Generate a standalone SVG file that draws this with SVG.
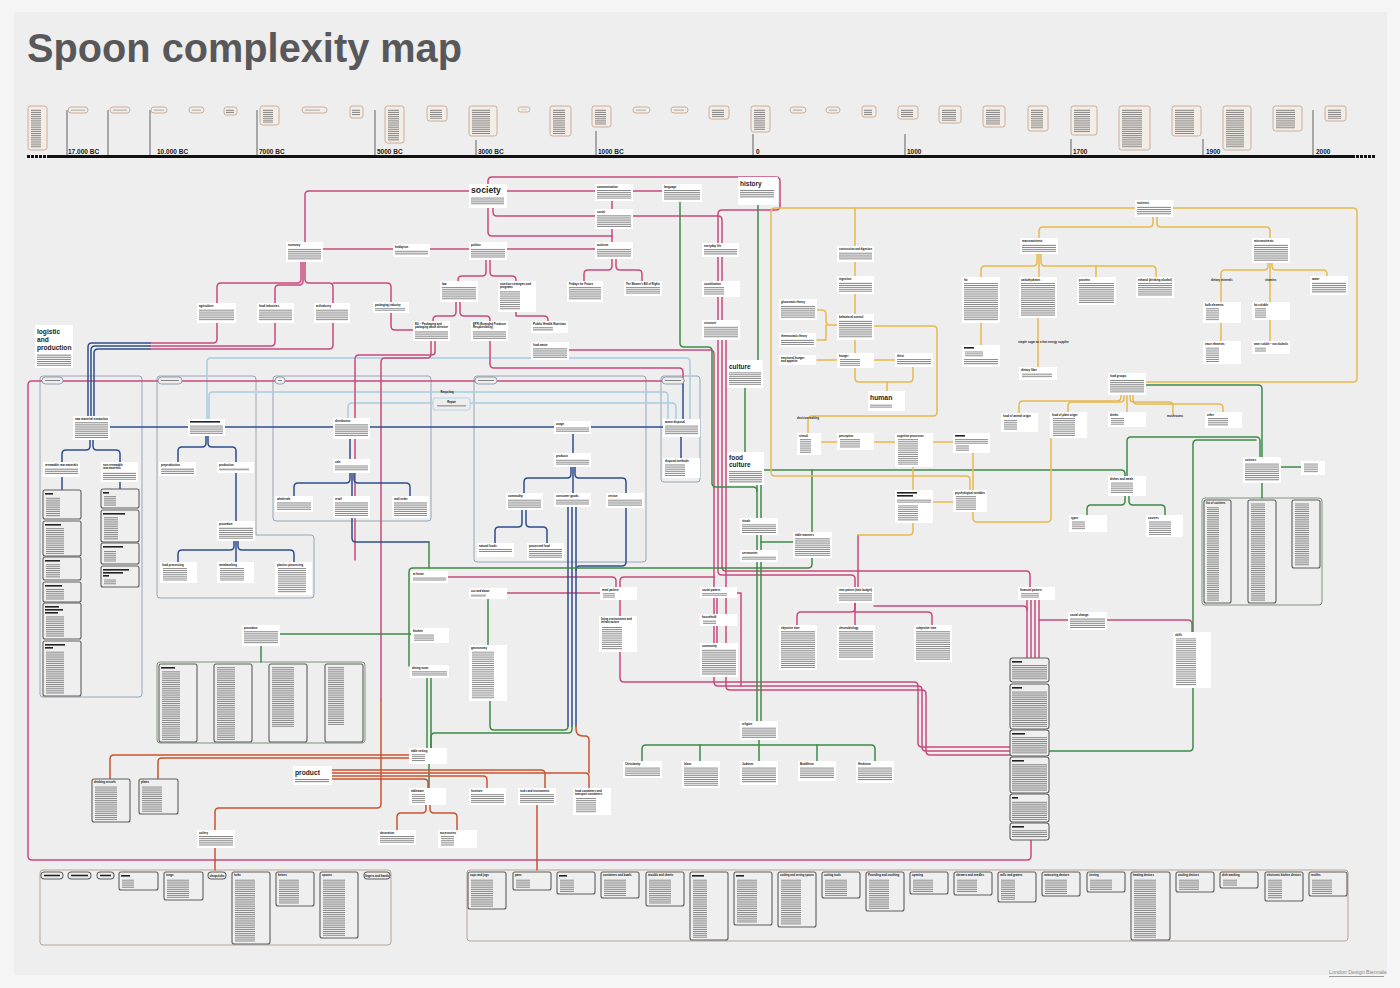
<svg xmlns="http://www.w3.org/2000/svg" width="1400" height="988" viewBox="0 0 1400 988">
<defs>
<style>
.c{fill:#fff}
.t{font-family:"Liberation Sans",Arial,sans-serif;font-weight:700;font-size:2.8px;fill:#111}
.big{font-family:"Liberation Sans",Arial,sans-serif;font-weight:700;fill:#1e1e1e}
.yr{font-family:"Liberation Sans",Arial,sans-serif;font-weight:700;font-size:6.5px;fill:#222}
.lbl{font-family:"Liberation Sans",Arial,sans-serif;font-weight:700;font-size:2.8px;fill:#222}
.p{fill:url(#ln)}
.pl{fill:url(#ll)}
.lb{fill:#efefef;stroke:#5e5e5e;stroke-width:1.1}
.tb{fill:#f2ede7;stroke:#c29f86;stroke-width:0.8}
.box{fill:none;stroke:#8a9cb2;stroke-width:0.9}
.pill{fill:#eeeeee;stroke:#7b8ca2;stroke-width:0.8}
.bx{fill:none;stroke:#b7a597;stroke-width:1}
.m,.b,.lbl2,.g,.o,.r{fill:none;stroke-width:1.5;stroke-linejoin:round;stroke-linecap:round}
.m{stroke:#c8497e}
.b{stroke:#2e4d8c}
.lbl2{stroke:#a6cde2}
.g{stroke:#3d8b47}
.o{stroke:#e7b94d}
.r{stroke:#c9532f}
.tick{stroke:#7a7a7a;stroke-width:1.2}
</style>
<pattern id="ln" width="60" height="1.9" patternUnits="userSpaceOnUse"><rect width="60" height="0.7" fill="#5a5a5a"/></pattern>
<pattern id="ll" width="60" height="1.9" patternUnits="userSpaceOnUse"><rect width="60" height="0.7" fill="#626262"/></pattern>
</defs>

<rect width="1400" height="988" fill="#f5f5f5"/>
<rect x="14" y="12" width="1373" height="963" fill="#eeeeee"/>

<text x="27" y="62" font-family="'Liberation Sans',Arial,sans-serif" font-weight="700" font-size="41" fill="#58585a" textLength="435" lengthAdjust="spacingAndGlyphs">Spoon complexity map</text>

<g id="timeline">
<rect x="47" y="155" width="1308" height="3" fill="#111"/>
<path d="M27,156.5h3M31,156.5h3M35,156.5h3M39,156.5h3M43,156.5h3M1356,156.5h3M1360,156.5h3M1364,156.5h3M1368,156.5h3M1372,156.5h3" stroke="#111" stroke-width="3"/>
<path class="tick" d="M67,110V155M108,110V155M150,110V155M257,110V155M375,110V155M476,140V155M596,131V155M753,134V155M905,134V155M1071,139V155M1203,139V155M1313,110V155"/>
<text class="yr" x="68" y="153.5">17.000 BC</text>
<text class="yr" x="157" y="153.5">10.000 BC</text>
<text class="yr" x="259" y="153.5">7000 BC</text>
<text class="yr" x="377" y="153.5">5000 BC</text>
<text class="yr" x="478" y="153.5">3000 BC</text>
<text class="yr" x="598" y="153.5">1000 BC</text>
<text class="yr" x="756" y="153.5">0</text>
<text class="yr" x="907" y="153.5">1000</text>
<text class="yr" x="1073" y="153.5">1700</text>
<text class="yr" x="1206" y="153.5">1900</text>
<text class="yr" x="1316" y="153.5">2000</text>
<g id="tl-boxes">
<rect class="tb" x="28" y="106" width="19" height="44" rx="2.5"/><rect class="pl" x="31" y="109" width="10" height="39"/>
<rect class="tb" x="68" y="107" width="20" height="6" rx="3"/><rect class="pl" x="71" y="109" width="14" height="1.5"/>
<rect class="tb" x="110" y="107" width="20" height="6" rx="3"/><rect class="pl" x="113" y="109" width="14" height="1.5"/>
<rect class="tb" x="151" y="107" width="16" height="6" rx="3"/><rect class="pl" x="154" y="109" width="10" height="1.5"/>
<rect class="tb" x="189" y="107" width="15" height="6" rx="3"/><rect class="pl" x="192" y="109" width="9" height="1.5"/>
<rect class="tb" x="224" y="107" width="13" height="8" rx="2.5"/><rect class="pl" x="226" y="109" width="8" height="5"/>
<rect class="tb" x="260" y="106" width="19" height="19" rx="2.5"/><rect class="pl" x="263" y="109" width="10" height="14"/>
<rect class="tb" x="302" y="107" width="25" height="6" rx="3"/><rect class="pl" x="305" y="109" width="15" height="1.5"/>
<rect class="tb" x="350" y="106" width="13" height="12" rx="2.5"/><rect class="pl" x="352" y="109" width="8" height="7"/>
<rect class="tb" x="385" y="106" width="19" height="37" rx="2.5"/><rect class="pl" x="388" y="109" width="11" height="32"/>
<rect class="tb" x="427" y="106" width="20" height="15" rx="2.5"/><rect class="pl" x="430" y="109" width="12" height="10"/>
<rect class="tb" x="469" y="106" width="28" height="30" rx="2.5"/><rect class="pl" x="472" y="109" width="18" height="25"/>
<rect class="tb" x="518" y="107" width="12" height="5" rx="2.5"/><rect class="pl" x="521" y="109" width="6" height="1"/>
<rect class="tb" x="550" y="106" width="21" height="30" rx="2.5"/><rect class="pl" x="553" y="109" width="12" height="25"/>
<rect class="tb" x="592" y="106" width="19" height="21" rx="2.5"/><rect class="pl" x="595" y="109" width="11" height="16"/>
<rect class="tb" x="633" y="107" width="17" height="6" rx="3"/><rect class="pl" x="636" y="109" width="10" height="1.5"/>
<rect class="tb" x="671" y="107" width="17" height="6" rx="3"/><rect class="pl" x="674" y="109" width="10" height="1.5"/>
<rect class="tb" x="709" y="106" width="20" height="13" rx="2.5"/><rect class="pl" x="712" y="109" width="12" height="8"/>
<rect class="tb" x="751" y="106" width="19" height="26" rx="2.5"/><rect class="pl" x="754" y="109" width="11" height="21"/>
<rect class="tb" x="790" y="107" width="16" height="6" rx="3"/><rect class="pl" x="793" y="109" width="9" height="1.5"/>
<rect class="tb" x="826" y="107" width="14" height="6" rx="3"/><rect class="pl" x="829" y="109" width="8" height="1.5"/>
<rect class="tb" x="862" y="106" width="14" height="11" rx="2.5"/><rect class="pl" x="864" y="109" width="8" height="6"/>
<rect class="tb" x="898" y="106" width="20" height="13" rx="2.5"/><rect class="pl" x="901" y="109" width="12" height="8"/>
<rect class="tb" x="939" y="106" width="22" height="17" rx="2.5"/><rect class="pl" x="942" y="109" width="14" height="12"/>
<rect class="tb" x="983" y="106" width="22" height="21" rx="2.5"/><rect class="pl" x="986" y="109" width="14" height="16"/>
<rect class="tb" x="1028" y="106" width="20" height="25" rx="2.5"/><rect class="pl" x="1031" y="109" width="12" height="20"/>
<rect class="tb" x="1071" y="106" width="26" height="29" rx="2.5"/><rect class="pl" x="1074" y="109" width="16" height="24"/>
<rect class="tb" x="1119" y="106" width="31" height="44" rx="2.5"/><rect class="pl" x="1122" y="109" width="20" height="39"/>
<rect class="tb" x="1172" y="106" width="29" height="30" rx="2.5"/><rect class="pl" x="1175" y="109" width="19" height="25"/>
<rect class="tb" x="1223" y="106" width="28" height="44" rx="2.5"/><rect class="pl" x="1226" y="109" width="18" height="39"/>
<rect class="tb" x="1273" y="106" width="29" height="25" rx="2.5"/><rect class="pl" x="1276" y="109" width="19" height="20"/>
<rect class="tb" x="1325" y="106" width="21" height="15" rx="2.5"/><rect class="pl" x="1328" y="109" width="13" height="10"/>
</g>
</g>

<g id="containers">
<rect class="box" x="40" y="376" width="102" height="321" rx="3"/>
<path class="box" d="M160,376H253Q256,376 256,379V535H311Q314,535 314,538V595Q314,598 311,598H160Q157,598 157,595V379Q157,376 160,376Z"/>
<rect class="box" x="273" y="376" width="158" height="145" rx="3"/>
<rect class="box" x="474" y="376" width="172" height="186" rx="3"/>
<rect class="box" x="661" y="376" width="39" height="106" rx="3"/>
<rect x="157" y="662" width="208" height="81" rx="3" fill="none" stroke="#6d8d70" stroke-width="0.9"/>
<rect x="1202" y="498" width="120" height="107" rx="3" fill="none" stroke="#6d8d70" stroke-width="0.9"/>
<rect class="bx" x="40" y="870" width="351" height="75" rx="3"/>
<rect class="bx" x="467" y="870" width="881" height="71" rx="3"/>
</g>

<g id="connectors">
<path class="lbl2" d="M207,419V362Q207,358 211,358H686Q690,358 690,362V419"/>
<path class="lbl2" d="M209,419V396Q209,392 213,392H664Q668,392 668,396V419"/>
<path class="lbl2" d="M348,419V407Q348,403 352,403H672Q676,403 676,407V419"/>
<path class="m" d="M469,191H309Q305,191 305,195V242"/>
<path class="m" d="M323,249H595"/>
<path class="m" d="M507,191H662"/>
<path class="m" d="M488,184V181Q488,177 492,177H776Q780,177 780,181V205"/>
<path class="m" d="M493,207V212Q493,216 497,216H718Q722,216 722,220V567Q722,571 726,571H1026Q1030,571 1030,575V587"/>
<path class="m" d="M780,205V206Q780,210 776,210H722Q718,210 718,214V571Q718,575 722,575H851Q855,575 855,579V587"/>
<path class="m" d="M488,207V232Q488,236 492,236H612"/>
<path class="m" d="M612,200V242"/>
<path class="m" d="M486,260V272Q486,276 482,276H462Q458,276 458,280V281"/>
<path class="m" d="M490,260V272Q490,276 494,276H512Q516,276 516,280V281"/>
<path class="m" d="M612,259V266Q612,270 608,270H588Q584,270 584,274V281"/>
<path class="m" d="M616,259V266Q616,270 620,270H638Q642,270 642,274V281"/>
<path class="m" d="M456,302V312Q456,316 452,316H437Q433,316 433,320V321"/>
<path class="m" d="M460,302V312Q460,316 464,316H486Q490,316 490,320V321"/>
<path class="m" d="M516,312V316H544Q548,316 548,320V321"/>
<path class="m" d="M301,262V279Q301,283 297,283H221Q217,283 217,287V339Q217,343 213,343H150"/>
<path class="m" d="M303,262V281Q303,285 299,285H279Q275,285 275,289V342Q275,346 271,346H150"/>
<path class="m" d="M305,262V279Q305,283 309,283H329Q333,283 333,287V345Q333,349 329,349H150"/>
<path class="m" d="M333,283H387Q391,283 391,287V326Q391,330 395,330H413"/>
<path class="m" d="M431,341V354Q431,358 427,358H385Q381,358 381,362V700"/>
<path class="m" d="M435,341V352Q435,355 431,355H359Q355,355 355,359V560"/>
<path class="m" d="M490,341V364Q490,368 494,368H679Q683,368 683,372V384"/>
<path class="m" d="M684,381H32Q28,381 28,385V856Q28,860 32,860H1027Q1031,860 1031,856V840"/>
<path class="m" d="M569,350H710Q714,350 714,354V682Q714,686 718,686H918Q922,686 922,690V747Q922,751 926,751H1010"/>
<path class="m" d="M726,330V686Q726,690 730,690H922Q926,690 926,694V751Q926,755 930,755H1010"/>
<path class="m" d="M620,600V678Q620,682 624,682H914Q918,682 918,686V743Q918,747 922,747H1010"/>
<path class="m" d="M737,593H741V686"/>
<path class="m" d="M717,598V650"/>
<path class="m" d="M448,577H612Q616,577 616,581V587"/>
<path class="m" d="M620,587V581Q620,577 624,577H714"/>
<path class="m" d="M507,593H600"/>
<path class="m" d="M855,603V608Q855,612 851,612H801Q797,612 797,616V625"/>
<path class="m" d="M855,603V625"/>
<path class="m" d="M855,612H928Q932,612 932,616V625"/>
<path class="m" d="M874,606H1023Q1027,606 1027,610"/>
<path class="m" d="M1027,600V658M1031,600V658M1035,600V658M1039,600V658"/>
<path class="m" d="M1039,620H1188Q1192,620 1192,624V632"/>
<path class="m" d="M858,535V587"/>
<path class="b" d="M150,343H92Q88,343 88,347V417"/>
<path class="b" d="M150,346H95Q91,346 91,350V417"/>
<path class="b" d="M150,349H98Q94,349 94,353V417"/>
<path class="b" d="M683,384V419"/>
<path class="b" d="M110,427H663"/>
<path class="b" d="M90,440V446Q90,450 86,450H66Q62,450 62,454V463"/>
<path class="b" d="M93,440V446Q93,450 97,450H116Q120,450 120,454V463"/>
<path class="b" d="M62,477V492M120,482V489"/>
<path class="b" d="M206,436V443Q206,447 202,447H182Q178,447 178,451V463"/>
<path class="b" d="M208,436V443Q208,447 212,447H232Q236,447 236,451V463"/>
<path class="b" d="M236,473V521"/>
<path class="b" d="M234,541V546Q234,550 230,550H182Q178,550 178,554V563"/>
<path class="b" d="M236,541V563"/>
<path class="b" d="M238,541V546Q238,550 242,550H290Q294,550 294,554V563"/>
<path class="b" d="M350,439V459"/>
<path class="b" d="M350,473V479Q350,483 346,483H298Q294,483 294,487V497"/>
<path class="b" d="M352,473V497"/>
<path class="b" d="M354,473V479Q354,483 358,483H406Q410,483 410,487V497"/>
<path class="b" d="M352,512V538Q352,542 356,542H429"/>
<path class="b" d="M573,434V453"/>
<path class="b" d="M571,467V474Q571,478 567,478H528Q524,478 524,482V493"/>
<path class="b" d="M573,467V493"/>
<path class="b" d="M575,467V474Q575,478 579,478H622Q626,478 626,482V493"/>
<path class="b" d="M522,510V523Q522,527 518,527H499Q495,527 495,531V543"/>
<path class="b" d="M526,510V523Q526,527 530,527H543Q547,527 547,531V543"/>
<path class="b" d="M568,507V726M572,507V726M576,507V726"/>
<path class="b" d="M626,508V562Q626,566 622,566H580Q576,566 576,570"/>
<path class="b" d="M681,437V458"/>
<path class="g" d="M758,205V361"/>
<path class="g" d="M745,388V452"/>
<path class="g" d="M757,485V721M761,485V721"/>
<path class="g" d="M680,202V343Q680,347 684,347H708Q712,347 712,351V483Q712,487 716,487H753Q757,487 757,491"/>
<path class="g" d="M764,470H1121Q1125,470 1125,474V476"/>
<path class="g" d="M812,470V564Q812,568 808,568H413Q409,568 409,572V666"/>
<path class="g" d="M761,542H793"/>
<path class="g" d="M642,761V749Q642,745 646,745H871Q875,745 875,749V761"/>
<path class="g" d="M700,745V761M759,740V761M817,745V761"/>
<path class="g" d="M429,542V568"/>
<path class="g" d="M280,634H411"/>
<path class="g" d="M261,646V662"/>
<path class="g" d="M488,599V645"/>
<path class="g" d="M427,678V748M431,678V748M429,764V788"/>
<path class="g" d="M568,726Q568,730 564,730H494Q490,730 490,726V701"/>
<path class="g" d="M572,726V729Q572,733 568,733H435Q431,733 431,737V748"/>
<path class="g" d="M1127,476V441Q1127,437 1131,437H1256Q1260,437 1260,441V457"/>
<path class="g" d="M1193,632V444Q1193,440 1197,440H1256"/>
<path class="g" d="M1146,385H1258Q1262,385 1262,389V457"/>
<path class="g" d="M1281,467H1301"/>
<path class="g" d="M1262,483V498"/>
<path class="g" d="M1125,496V501Q1125,505 1121,505H1091Q1087,505 1087,509V515"/>
<path class="g" d="M1129,496V501Q1129,505 1133,505H1161Q1165,505 1165,509V515"/>
<path class="g" d="M1193,688V747Q1193,751 1189,751H1049"/>
<path class="o" d="M1135,208H775Q771,208 771,212V472Q771,476 775,476H966Q970,476 970,480V490"/>
<path class="o" d="M855,208V246"/>
<path class="o" d="M1173,208H1353Q1357,208 1357,212V378Q1357,382 1353,382H1146"/>
<path class="o" d="M1153,217V223Q1153,227 1149,227H1043Q1039,227 1039,231V238"/>
<path class="o" d="M1157,217V223Q1157,227 1161,227H1266Q1270,227 1270,231V238"/>
<path class="o" d="M1037,254V262Q1037,266 1033,266H985Q981,266 981,270V277"/>
<path class="o" d="M1039,254V277"/>
<path class="o" d="M1041,254V262Q1041,266 1045,266H1152Q1156,266 1156,270V277"/>
<path class="o" d="M1096,266V277"/>
<path class="o" d="M1268,263V266Q1268,270 1264,270H1225Q1221,270 1221,274V341"/>
<path class="o" d="M1270,263V341"/>
<path class="o" d="M1272,263V266Q1272,270 1276,270H1323Q1327,270 1327,274V276"/>
<path class="o" d="M981,323V345M1038,318V367"/>
<path class="o" d="M855,262V276M855,294V314M855,340V353"/>
<path class="o" d="M817,310H822Q826,310 826,314V321Q826,325 830,325H837"/>
<path class="o" d="M817,340H826V325"/>
<path class="o" d="M817,360H837M874,360H895"/>
<path class="o" d="M855,368V378Q855,382 859,382H909Q913,382 913,378V367"/>
<path class="o" d="M887,382V391"/>
<path class="o" d="M874,326H933Q937,326 937,330V412Q937,416 933,416H812Q808,416 808,420V433"/>
<path class="o" d="M821,442H837M874,442H895M933,442H953"/>
<path class="o" d="M913,467V490M933,502H953M973,453V490"/>
<path class="o" d="M973,512V518Q973,522 977,522H1047Q1051,522 1051,518V438"/>
<path class="o" d="M913,523V531Q913,535 909,535H858"/>
<path class="o" d="M1121,395V397Q1121,401 1117,401H1023Q1019,401 1019,405V413"/>
<path class="o" d="M1124,395V399Q1124,402 1120,402H1072Q1068,402 1068,406V412"/>
<path class="o" d="M1127,395V412"/>
<path class="o" d="M1130,395V399Q1130,402 1134,402H1169Q1173,402 1173,406V414"/>
<path class="o" d="M1133,395V400Q1133,404 1137,404H1219Q1223,404 1223,408V412"/>
<path class="r" d="M381,700V804Q381,808 377,808H219Q215,808 215,812V830"/>
<path class="r" d="M215,848V870"/>
<path class="r" d="M110,779V759Q110,755 114,755H409"/>
<path class="r" d="M158,779V762Q158,758 162,758H409"/>
<path class="r" d="M332,770H541Q545,770 545,774V788"/>
<path class="r" d="M332,773H585Q589,773 589,777V788"/>
<path class="r" d="M332,776H483Q487,776 487,780V788"/>
<path class="r" d="M332,779H424Q428,779 428,783V788"/>
<path class="r" d="M576,726V729Q576,736 583,736H585Q589,736 589,740V773"/>
<path class="r" d="M537,805V870"/>
<path class="r" d="M426,805V809Q426,813 422,813H401Q397,813 397,817V830"/>
<path class="r" d="M430,805V809Q430,813 434,813H453Q457,813 457,817V830"/>
</g>

<g id="labels">
<text class="lbl" x="447" y="393" text-anchor="middle">Recycling</text>
<text class="lbl" x="1211" y="281">dietary minerals</text>
<text class="lbl" x="1265" y="281">vitamins</text>
<text class="lbl" x="1018" y="343">simple sugar as a fast energy supplier</text>
<text class="lbl" x="797" y="419">decision making</text>
<text class="lbl" x="1167" y="417">mushrooms</text>
</g>

<g id="pills">
<rect class="pill" x="42" y="377" width="21" height="7" rx="3.5"/><rect class="p" x="45" y="380" width="15" height="1"/>
<rect class="pill" x="158" y="377" width="24" height="7" rx="3.5"/><rect class="p" x="161" y="380" width="18" height="1"/>
<rect class="pill" x="275" y="377" width="10" height="7" rx="3.5"/><rect class="p" x="278" y="380" width="4" height="1"/>
<rect class="pill" x="475" y="377" width="22" height="7" rx="3.5"/><rect class="p" x="478" y="380" width="16" height="1"/>
<rect class="pill" x="662" y="377" width="22" height="7" rx="3.5"/><rect class="p" x="665" y="380" width="16" height="1"/>
</g>
<g id="n-repair"><rect x="433" y="398" width="37" height="12" rx="2" fill="#eee" stroke="#a6cde2" stroke-width="0.8"/><text class="t" x="451.5" y="403" text-anchor="middle">Repair</text><rect class="p" x="437" y="405" width="29" height="2"/></g>

<g id="nodes">
<g id="n-society"><rect class="c" x="469" y="184" width="38" height="24"/><text class="big" x="471" y="193" font-size="8.7">society</text><rect class="p" x="471" y="197" width="33" height="8"/></g>
<g id="n-history"><rect class="c" x="738" y="177" width="40" height="28"/><text class="big" x="740" y="186" font-size="6.5">history</text><rect class="p" x="740" y="190" width="34" height="8"/></g>
<g id="n-communication"><rect class="c" x="595" y="184" width="38" height="17"/><text class="t" x="597" y="188">communication</text><rect class="p" x="597" y="190" width="34" height="9"/></g>
<g id="n-language"><rect class="c" x="662" y="184" width="40" height="18"/><text class="t" x="664" y="188">language</text><rect class="p" x="664" y="190" width="36" height="10"/></g>
<g id="n-social"><rect class="c" x="595" y="209" width="38" height="20"/><text class="t" x="597" y="213">social</text><rect class="p" x="597" y="215" width="34" height="12"/></g>
<g id="n-economy"><rect class="c" x="286" y="242" width="37" height="20"/><text class="t" x="288" y="246">economy</text><rect class="p" x="288" y="248" width="33" height="12"/></g>
<g id="n-hobbyism"><rect class="c" x="393" y="244" width="37" height="13"/><text class="t" x="395" y="248">hobbyism</text><rect class="p" x="395" y="250" width="33" height="5"/></g>
<g id="n-politics"><rect class="c" x="469" y="242" width="38" height="18"/><text class="t" x="471" y="246">politics</text><rect class="p" x="471" y="248" width="34" height="10"/></g>
<g id="n-activism"><rect class="c" x="595" y="242" width="38" height="17"/><text class="t" x="597" y="246">activism</text><rect class="p" x="597" y="248" width="34" height="9"/></g>
<g id="n-everyday"><rect class="c" x="702" y="243" width="37" height="14"/><text class="t" x="704" y="247">everyday life</text><rect class="p" x="704" y="249" width="33" height="6"/></g>
<g id="n-socialisation"><rect class="c" x="702" y="281" width="38" height="16"/><text class="t" x="704" y="285">socialisation</text><rect class="pl" x="704" y="287" width="20" height="8"/></g>
<g id="n-structure"><rect class="c" x="702" y="320" width="38" height="20"/><text class="t" x="704" y="324">structure</text><rect class="p" x="704" y="326" width="34" height="12"/></g>
<g id="n-agriculture"><rect class="c" x="197" y="303" width="39" height="20"/><text class="t" x="199" y="307">agriculture</text><rect class="p" x="199" y="309" width="35" height="12"/></g>
<g id="n-foodind"><rect class="c" x="257" y="303" width="37" height="20"/><text class="t" x="259" y="307">food industries</text><rect class="p" x="259" y="309" width="33" height="12"/></g>
<g id="n-artind"><rect class="c" x="314" y="303" width="36" height="20"/><text class="t" x="316" y="307">art/industry</text><rect class="p" x="316" y="309" width="32" height="12"/></g>
<g id="n-packind"><rect class="c" x="373" y="302" width="36" height="11"/><text class="t" x="375" y="306">packaging industry</text><rect class="p" x="375" y="308" width="30" height="3"/></g>
<g id="n-law"><rect class="c" x="440" y="281" width="38" height="21"/><text class="t" x="442" y="285">law</text><rect class="p" x="442" y="287" width="34" height="13"/></g>
<g id="n-nutrition"><rect class="c" x="498" y="281" width="38" height="31"/><text class="t" x="500" y="285">nutrition strategies and</text><text class="t" x="500" y="288.3">programs</text><rect class="pl" x="500" y="291" width="20" height="19"/></g>
<g id="n-fridays"><rect class="c" x="567" y="281" width="36" height="21"/><text class="t" x="569" y="285">Fridays for Future</text><rect class="p" x="569" y="287" width="32" height="13"/></g>
<g id="n-women"><rect class="c" x="624" y="281" width="38" height="15"/><text class="t" x="626" y="285" textLength="34" lengthAdjust="spacingAndGlyphs">The Women's Bill of Rights</text><rect class="p" x="626" y="287" width="34" height="7"/></g>
<g id="n-eu"><rect class="c" x="413" y="321" width="37" height="20"/><text class="t" x="415" y="325">EU – Packaging and</text><text class="t" x="415" y="328.3" textLength="33" lengthAdjust="spacingAndGlyphs">packaging waste directive</text><rect class="p" x="415" y="331" width="33" height="8"/></g>
<g id="n-epr"><rect class="c" x="471" y="321" width="37" height="20"/><text class="t" x="473" y="325">EPR (Extended Producer</text><text class="t" x="473" y="328.3">Responsibility)</text><rect class="p" x="473" y="331" width="33" height="8"/></g>
<g id="n-phn"><rect class="c" x="531" y="321" width="37" height="12"/><text class="t" x="533" y="325" textLength="33" lengthAdjust="spacingAndGlyphs">Public Health Nutrition</text><rect class="p" x="533" y="327" width="20" height="4"/></g>
<g id="n-foodwaste"><rect class="c" x="531" y="342" width="38" height="18"/><text class="t" x="533" y="346">food waste</text><rect class="p" x="533" y="348" width="34" height="10"/></g>
<g id="n-logistic"><rect class="c" x="35" y="325" width="38" height="43"/><text class="big" x="37" y="334" font-size="6.6">logistic</text><text class="big" x="37" y="342" font-size="6.6">and</text><text class="big" x="37" y="350" font-size="6.6">production</text><rect class="p" x="37" y="354" width="34" height="12"/></g>

<g id="n-raw"><rect class="c" x="73" y="416" width="37" height="24"/><text class="t" x="75" y="420" textLength="33" lengthAdjust="spacingAndGlyphs">raw material extraction</text><rect class="p" x="75" y="422" width="33" height="16"/></g>
<g id="n-manuf"><rect class="c" x="188" y="419" width="37" height="17"/><rect x="190" y="421" width="30" height="1.6" fill="#222"/><rect class="p" x="190" y="425" width="33" height="9"/></g>
<g id="n-distribution"><rect class="c" x="333" y="418" width="37" height="21"/><text class="t" x="335" y="422">distribution</text><rect class="p" x="335" y="424" width="33" height="13"/></g>
<g id="n-usage"><rect class="c" x="554" y="421" width="37" height="13"/><text class="t" x="556" y="425">usage</text><rect class="p" x="556" y="427" width="33" height="5"/></g>
<g id="n-wastedisp"><rect class="c" x="663" y="419" width="37" height="18"/><text class="t" x="665" y="423">waste disposal</text><rect class="p" x="665" y="425" width="33" height="10"/></g>
<g id="n-dispmeth"><rect class="c" x="663" y="458" width="37" height="20"/><text class="t" x="665" y="462">disposal methods</text><rect class="pl" x="665" y="464" width="20" height="12"/></g>
<g id="n-renew"><rect class="c" x="43" y="462" width="37" height="15"/><text class="t" x="45" y="466" textLength="33" lengthAdjust="spacingAndGlyphs">renewable raw materials</text><rect class="p" x="45" y="468" width="33" height="7"/></g>
<g id="n-nonrenew"><rect class="c" x="101" y="462" width="37" height="20"/><text class="t" x="103" y="466">non-renewable</text><text class="t" x="103" y="469.3">raw materials</text><rect class="p" x="103" y="472" width="33" height="8"/></g>
<g id="n-preprod"><rect class="c" x="159" y="462" width="37" height="14"/><text class="t" x="161" y="466">preproduction</text><rect class="p" x="161" y="468" width="33" height="6"/></g>
<g id="n-production"><rect class="c" x="217" y="462" width="37" height="11"/><text class="t" x="219" y="466">production</text><rect class="p" x="219" y="468" width="30" height="3"/></g>
<g id="n-sale"><rect class="c" x="333" y="459" width="37" height="14"/><text class="t" x="335" y="463">sale</text><rect class="p" x="335" y="465" width="33" height="6"/></g>
<g id="n-wholesale"><rect class="c" x="275" y="496" width="38" height="16"/><text class="t" x="277" y="500">wholesale</text><rect class="p" x="277" y="502" width="34" height="8"/></g>
<g id="n-retail"><rect class="c" x="333" y="496" width="37" height="22"/><text class="t" x="335" y="500">retail</text><rect class="p" x="335" y="502" width="33" height="14"/></g>
<g id="n-mailorder"><rect class="c" x="392" y="496" width="37" height="22"/><text class="t" x="394" y="500">mail order</text><rect class="p" x="394" y="502" width="33" height="14"/></g>
<g id="n-products"><rect class="c" x="554" y="453" width="37" height="14"/><text class="t" x="556" y="457">products</text><rect class="p" x="556" y="459" width="33" height="6"/></g>
<g id="n-commodity"><rect class="c" x="506" y="493" width="37" height="17"/><text class="t" x="508" y="497">commodity</text><rect class="p" x="508" y="499" width="33" height="9"/></g>
<g id="n-consumer"><rect class="c" x="554" y="493" width="37" height="14"/><text class="t" x="556" y="497">consumer goods</text><rect class="p" x="556" y="499" width="33" height="6"/></g>
<g id="n-service"><rect class="c" x="606" y="493" width="38" height="15"/><text class="t" x="608" y="497">service</text><rect class="p" x="608" y="499" width="34" height="7"/></g>
<g id="n-natural"><rect class="c" x="477" y="543" width="37" height="14"/><text class="t" x="479" y="547">natural foods</text><rect class="p" x="479" y="549" width="33" height="3"/></g>
<g id="n-processed"><rect class="c" x="527" y="543" width="37" height="17"/><text class="t" x="529" y="547">processed food</text><rect class="p" x="529" y="549" width="33" height="9"/></g>
<g id="n-procedure1"><rect class="c" x="217" y="521" width="38" height="20"/><text class="t" x="219" y="525">procedure</text><rect class="p" x="219" y="527" width="34" height="12"/></g>
<g id="n-foodproc"><rect class="c" x="160" y="562" width="37" height="21"/><text class="t" x="162" y="566">food processing</text><rect class="pl" x="163" y="568" width="24" height="13"/></g>
<g id="n-metal"><rect class="c" x="217" y="562" width="37" height="21"/><text class="t" x="219" y="566">metalworking</text><rect class="pl" x="220" y="568" width="24" height="13"/></g>
<g id="n-plastics"><rect class="c" x="275" y="562" width="37" height="33"/><text class="t" x="277" y="566">plastics processing</text><rect class="pl" x="278" y="568" width="28" height="25"/></g>
<g id="n-procedure2"><rect class="c" x="242" y="625" width="38" height="21"/><text class="t" x="244" y="629">procedure</text><rect class="p" x="244" y="631" width="34" height="13"/></g>

<g id="n-rawlists">
<rect class="lb" x="43" y="490" width="38" height="29" rx="2"/><rect x="45" y="493" width="8" height="1.6" fill="#222"/><rect class="pl" x="46" y="497" width="14" height="20"/>
<rect class="lb" x="43" y="521" width="38" height="35" rx="2"/><rect x="45" y="524" width="16" height="1.6" fill="#222"/><rect class="pl" x="46" y="528" width="18" height="26"/>
<rect class="lb" x="43" y="557" width="38" height="23" rx="2"/><rect x="45" y="560" width="15" height="1.6" fill="#222"/><rect class="pl" x="46" y="564" width="14" height="14"/>
<rect class="lb" x="43" y="582" width="38" height="20" rx="2"/><rect x="45" y="585" width="17" height="1.6" fill="#222"/><rect class="pl" x="46" y="589" width="18" height="11"/>
<rect class="lb" x="43" y="603" width="38" height="36" rx="2"/><rect x="45" y="606" width="14" height="1.6" fill="#222"/><rect x="45" y="609" width="18" height="1.6" fill="#222"/><rect x="45" y="612" width="13" height="1.6" fill="#222"/><rect class="pl" x="46" y="616" width="18" height="21"/>
<rect class="lb" x="43" y="641" width="38" height="55" rx="2"/><rect x="45" y="644" width="20" height="1.6" fill="#222"/><rect x="45" y="647" width="8" height="1.6" fill="#222"/><rect class="pl" x="46" y="651" width="18" height="43"/>
<rect class="lb" x="101" y="489" width="38" height="19" rx="2"/><rect x="103" y="492" width="6" height="1.6" fill="#222"/><rect class="pl" x="104" y="496" width="12" height="10"/>
<rect class="lb" x="101" y="510" width="38" height="32" rx="2"/><rect x="103" y="513" width="22" height="1.6" fill="#222"/><rect class="pl" x="104" y="517" width="14" height="23"/>
<rect class="lb" x="101" y="543" width="38" height="21" rx="2"/><rect x="103" y="546" width="20" height="1.6" fill="#222"/><rect class="pl" x="104" y="550" width="12" height="12"/>
<rect class="lb" x="101" y="566" width="38" height="21" rx="2"/><rect x="103" y="569" width="26" height="1.6" fill="#222"/><rect x="103" y="572" width="20" height="1.6" fill="#222"/><rect x="103" y="575" width="6" height="1.6" fill="#222"/><rect class="pl" x="104" y="579" width="12" height="6"/>
</g>

<g id="n-toollists">
<rect class="lb" x="159" y="664" width="38" height="78" rx="2"/><rect x="161" y="667" width="14" height="1.6" fill="#222"/><rect class="pl" x="162" y="671" width="18" height="69"/>
<rect class="lb" x="214" y="664" width="38" height="78" rx="2"/><rect class="pl" x="217" y="667" width="18" height="73"/>
<rect class="lb" x="269" y="664" width="38" height="78" rx="2"/><rect class="pl" x="272" y="667" width="22" height="60"/>
<rect class="lb" x="325" y="664" width="38" height="78" rx="2"/><rect class="pl" x="328" y="667" width="16" height="58"/>
</g>

<g id="n-athome"><rect class="c" x="411" y="571" width="37" height="12"/><text class="t" x="413" y="575">at home</text><rect class="p" x="413" y="577" width="33" height="4"/></g>
<g id="n-outabout"><rect class="c" x="469" y="588" width="38" height="11"/><text class="t" x="471" y="592">out and about</text><rect class="p" x="471" y="594" width="15" height="3"/></g>
<g id="n-mealpattern"><rect class="c" x="600" y="587" width="37" height="13"/><text class="t" x="602" y="591">meal pattern</text><rect class="pl" x="603" y="593" width="12" height="5"/></g>
<g id="n-living"><rect class="c" x="599" y="616" width="38" height="36"/><text class="t" x="601" y="620">living environment and</text><text class="t" x="601" y="623.3">infrastructure</text><rect class="pl" x="602" y="626" width="20" height="24"/></g>
<g id="n-kitchen"><rect class="c" x="411" y="628" width="38" height="15"/><text class="t" x="413" y="632">kitchen</text><rect class="pl" x="414" y="634" width="20" height="7"/></g>
<g id="n-gastronomy"><rect class="c" x="469" y="645" width="38" height="56"/><text class="t" x="471" y="649">gastronomy</text><rect class="pl" x="472" y="651" width="22" height="48"/></g>
<g id="n-diningroom"><rect class="c" x="410" y="665" width="39" height="13"/><text class="t" x="412" y="669">dining room</text><rect class="p" x="412" y="671" width="35" height="5"/></g>
<g id="n-tablesetting"><rect class="c" x="409" y="748" width="38" height="16"/><text class="t" x="411" y="752">table setting</text><rect class="pl" x="412" y="754" width="13" height="8"/></g>
<g id="n-tableware"><rect class="c" x="409" y="788" width="37" height="17"/><text class="t" x="411" y="792">tableware</text><rect class="pl" x="412" y="794" width="13" height="9"/></g>
<g id="n-furniture"><rect class="c" x="469" y="788" width="37" height="17"/><text class="t" x="471" y="792">furniture</text><rect class="p" x="471" y="794" width="33" height="9"/></g>
<g id="n-tools"><rect class="c" x="518" y="788" width="38" height="17"/><text class="t" x="520" y="792">tools and instruments</text><rect class="p" x="520" y="794" width="34" height="9"/></g>
<g id="n-containers"><rect class="c" x="573" y="788" width="38" height="27"/><text class="t" x="575" y="792">food containers and</text><text class="t" x="575" y="795.3">transport containers</text><rect class="pl" x="576" y="798" width="20" height="15"/></g>
<g id="n-decoration"><rect class="c" x="378" y="830" width="38" height="15"/><text class="t" x="380" y="834">decoration</text><rect class="p" x="380" y="836" width="34" height="7"/></g>
<g id="n-accessories"><rect class="c" x="438" y="830" width="39" height="18"/><text class="t" x="440" y="834">accessories</text><rect class="pl" x="441" y="836" width="13" height="10"/></g>
<g id="n-product"><rect class="c" x="293" y="766" width="39" height="19"/><text class="big" x="295" y="775" font-size="6.7">product</text><rect class="p" x="295" y="778" width="34" height="5"/></g>
<g id="n-drinking"><rect class="lb" x="92" y="779" width="38" height="43" rx="2"/><text class="t" x="94" y="783">drinking vessels</text><rect class="pl" x="95" y="786" width="22" height="34"/></g>
<g id="n-plates"><rect class="lb" x="139" y="779" width="39" height="35" rx="2"/><text class="t" x="141" y="783">plates</text><rect class="pl" x="142" y="786" width="20" height="26"/></g>
<g id="n-cutlery"><rect class="c" x="197" y="830" width="38" height="18"/><text class="t" x="199" y="834">cutlery</text><rect class="p" x="199" y="836" width="34" height="10"/></g>

<g id="n-socialpattern"><rect class="c" x="700" y="587" width="37" height="11"/><text class="t" x="702" y="591">social pattern</text><rect class="p" x="702" y="593" width="25" height="3"/></g>
<g id="n-household"><rect class="c" x="700" y="614" width="37" height="12"/><text class="t" x="702" y="618">household</text><rect class="pl" x="703" y="620" width="13" height="4"/></g>
<g id="n-community"><rect class="c" x="700" y="643" width="38" height="34"/><text class="t" x="702" y="647">community</text><rect class="p" x="702" y="649" width="34" height="26"/></g>
<g id="n-timepattern"><rect class="c" x="837" y="587" width="37" height="16"/><text class="t" x="839" y="591" textLength="33" lengthAdjust="spacingAndGlyphs">time pattern (time budget)</text><rect class="p" x="839" y="593" width="33" height="8"/></g>
<g id="n-financial"><rect class="c" x="1018" y="587" width="37" height="13"/><text class="t" x="1020" y="591">financial pattern</text><rect class="pl" x="1021" y="593" width="18" height="5"/></g>
<g id="n-objective"><rect class="c" x="779" y="625" width="38" height="45"/><text class="t" x="781" y="629">objective time</text><rect class="p" x="781" y="631" width="34" height="37"/></g>
<g id="n-chrono"><rect class="c" x="837" y="625" width="38" height="35"/><text class="t" x="839" y="629">chronobiology</text><rect class="p" x="839" y="631" width="34" height="27"/></g>
<g id="n-subjective"><rect class="c" x="914" y="625" width="38" height="37"/><text class="t" x="916" y="629">subjective time</text><rect class="p" x="916" y="631" width="34" height="29"/></g>
<g id="n-religion"><rect class="c" x="740" y="721" width="38" height="19"/><text class="t" x="742" y="725">religion</text><rect class="p" x="742" y="727" width="34" height="11"/></g>
<g id="n-christianity"><rect class="c" x="623" y="761" width="39" height="17"/><text class="t" x="625" y="765">Christianity</text><rect class="p" x="625" y="767" width="35" height="9"/></g>
<g id="n-islam"><rect class="c" x="682" y="761" width="38" height="27"/><text class="t" x="684" y="765">Islam</text><rect class="p" x="684" y="767" width="34" height="19"/></g>
<g id="n-judaism"><rect class="c" x="740" y="761" width="38" height="24"/><text class="t" x="742" y="765">Judaism</text><rect class="p" x="742" y="767" width="34" height="16"/></g>
<g id="n-buddhism"><rect class="c" x="798" y="761" width="38" height="20"/><text class="t" x="800" y="765">Buddhism</text><rect class="p" x="800" y="767" width="34" height="12"/></g>
<g id="n-hinduism"><rect class="c" x="856" y="761" width="38" height="22"/><text class="t" x="858" y="765">Hinduism</text><rect class="p" x="858" y="767" width="34" height="14"/></g>
<g id="n-rituals"><rect class="c" x="740" y="518" width="38" height="17"/><text class="t" x="742" y="522">rituals</text><rect class="p" x="742" y="524" width="34" height="9"/></g>
<g id="n-tablemanners"><rect class="c" x="793" y="532" width="39" height="26"/><text class="t" x="795" y="536">table manners</text><rect class="p" x="795" y="538" width="35" height="18"/></g>
<g id="n-ceremonies"><rect class="c" x="740" y="550" width="38" height="12"/><text class="t" x="742" y="554">ceremonies</text><rect class="p" x="742" y="556" width="34" height="4"/></g>
<g id="n-culture"><rect class="c" x="727" y="360" width="36" height="28"/><text class="big" x="729" y="368.5" font-size="6.5">culture</text><rect class="p" x="729" y="372" width="32" height="13"/></g>
<g id="n-foodculture"><rect class="c" x="727" y="452" width="37" height="33"/><text class="big" x="729" y="460" font-size="6.5">food</text><text class="big" x="729" y="467" font-size="6.5">culture</text><rect class="p" x="729" y="471" width="33" height="12"/></g>

<g id="n-nutrients"><rect class="c" x="1135" y="200" width="38" height="17"/><text class="t" x="1137" y="204">nutrients</text><rect class="p" x="1137" y="206" width="34" height="9"/></g>
<g id="n-macro"><rect class="c" x="1020" y="238" width="38" height="16"/><text class="t" x="1022" y="242">macronutrients</text><rect class="p" x="1022" y="244" width="34" height="8"/></g>
<g id="n-micro"><rect class="c" x="1252" y="238" width="38" height="25"/><text class="t" x="1254" y="242">micronutrients</text><rect class="p" x="1254" y="244" width="34" height="17"/></g>
<g id="n-construction"><rect class="c" x="837" y="246" width="37" height="16"/><text class="t" x="839" y="250" textLength="33" lengthAdjust="spacingAndGlyphs">construction and digestion</text><rect class="p" x="839" y="252" width="33" height="8"/></g>
<g id="n-ingestion"><rect class="c" x="837" y="276" width="37" height="18"/><text class="t" x="839" y="280">ingestion</text><rect class="p" x="839" y="282" width="33" height="10"/></g>
<g id="n-glucostatic"><rect class="c" x="779" y="299" width="38" height="21"/><text class="t" x="781" y="303">glucostatic theory</text><rect class="p" x="781" y="305" width="34" height="13"/></g>
<g id="n-behavioral"><rect class="c" x="837" y="314" width="37" height="26"/><text class="t" x="839" y="318">behavioral control</text><rect class="p" x="839" y="320" width="33" height="18"/></g>
<g id="n-thermostatic"><rect class="c" x="779" y="333" width="37" height="14"/><text class="t" x="781" y="337">thermostatic theory</text><rect class="p" x="781" y="339" width="33" height="6"/></g>
<g id="n-emohunger"><rect class="c" x="779" y="355" width="37" height="10"/><text class="t" x="781" y="359">emotional hunger</text><text class="t" x="781" y="362.3">and appetite</text></g>
<g id="n-hunger"><rect class="c" x="837" y="353" width="37" height="15"/><text class="t" x="839" y="357">hunger</text><rect class="pl" x="840" y="359" width="20" height="7"/></g>
<g id="n-thirst"><rect class="c" x="895" y="353" width="38" height="14"/><text class="t" x="897" y="357">thirst</text><rect class="p" x="897" y="359" width="34" height="6"/></g>
<g id="n-human"><rect class="c" x="868" y="391" width="37" height="20"/><text class="big" x="870" y="400" font-size="6.8">human</text><rect class="p" x="870" y="404" width="22" height="4"/></g>
<g id="n-fat"><rect class="c" x="962" y="277" width="38" height="46"/><text class="t" x="964" y="281">fat</text><rect class="p" x="964" y="283" width="34" height="38"/></g>
<g id="n-fat2"><rect class="c" x="962" y="345" width="38" height="22"/><rect x="964" y="347" width="10" height="1.6" fill="#222"/><rect class="pl" x="965" y="351" width="18" height="6"/><rect class="p" x="964" y="359" width="34" height="6"/></g>
<g id="n-carbs"><rect class="c" x="1019" y="277" width="38" height="41"/><text class="t" x="1021" y="281">carbohydrates</text><rect class="p" x="1021" y="283" width="34" height="33"/></g>
<g id="n-proteins"><rect class="c" x="1077" y="277" width="39" height="28"/><text class="t" x="1079" y="281">proteins</text><rect class="p" x="1079" y="283" width="35" height="20"/></g>
<g id="n-ethanol"><rect class="c" x="1136" y="277" width="38" height="21"/><text class="t" x="1138" y="281" textLength="34" lengthAdjust="spacingAndGlyphs">ethanol (drinking alcohol)</text><rect class="p" x="1138" y="283" width="34" height="13"/></g>
<g id="n-water"><rect class="c" x="1310" y="276" width="38" height="19"/><text class="t" x="1312" y="280">water</text><rect class="p" x="1312" y="282" width="34" height="11"/></g>
<g id="n-bulk"><rect class="c" x="1203" y="302" width="38" height="21"/><text class="t" x="1205" y="306">bulk elements</text><rect class="pl" x="1206" y="308" width="13" height="13"/></g>
<g id="n-fatsol"><rect class="c" x="1252" y="302" width="38" height="18"/><text class="t" x="1254" y="306">fat-soluble</text><rect class="pl" x="1255" y="308" width="11" height="10"/></g>
<g id="n-trace"><rect class="c" x="1203" y="341" width="38" height="23"/><text class="t" x="1205" y="345">trace elements</text><rect class="pl" x="1206" y="347" width="13" height="15"/></g>
<g id="n-watersol"><rect class="c" x="1252" y="341" width="38" height="13"/><text class="t" x="1254" y="345" textLength="34" lengthAdjust="spacingAndGlyphs">water soluble – non alcoholic</text><rect class="pl" x="1255" y="347" width="11" height="5"/></g>
<g id="n-fiber"><rect class="c" x="1019" y="367" width="38" height="13"/><text class="t" x="1021" y="371">dietary fiber</text><rect class="pl" x="1022" y="373" width="30" height="5"/></g>
<g id="n-stimuli"><rect class="c" x="797" y="433" width="24" height="22"/><text class="t" x="799" y="437">stimuli</text><rect class="pl" x="800" y="439" width="11" height="14"/></g>
<g id="n-perception"><rect class="c" x="837" y="433" width="37" height="17"/><text class="t" x="839" y="437">perception</text><rect class="pl" x="840" y="439" width="20" height="9"/></g>
<g id="n-cognitive"><rect class="c" x="895" y="433" width="38" height="34"/><text class="t" x="897" y="437">cognitive processes</text><rect class="pl" x="898" y="439" width="20" height="26"/></g>
<g id="n-emotions"><rect class="c" x="953" y="433" width="37" height="20"/><rect x="955" y="435" width="10" height="1.6" fill="#222"/><rect class="p" x="955" y="439" width="33" height="5"/><rect class="pl" x="956" y="445" width="13" height="6"/></g>
<g id="n-individual"><rect class="c" x="895" y="490" width="38" height="33"/><rect x="897" y="492" width="20" height="1.6" fill="#222"/><rect x="897" y="495" width="16" height="1.6" fill="#222"/><rect class="p" x="897" y="499" width="34" height="4"/><rect class="pl" x="898" y="505" width="20" height="16"/></g>
<g id="n-psych"><rect class="c" x="953" y="490" width="34" height="22"/><text class="t" x="955" y="494" textLength="30" lengthAdjust="spacingAndGlyphs">psychological variables</text><rect class="pl" x="956" y="496" width="20" height="14"/></g>
<g id="n-foodgroups"><rect class="c" x="1108" y="373" width="38" height="22"/><text class="t" x="1110" y="377">food groups</text><rect class="p" x="1110" y="379" width="34" height="14"/></g>
<g id="n-animal"><rect class="c" x="1001" y="413" width="37" height="19"/><text class="t" x="1003" y="417">food of animal origin</text><rect class="pl" x="1004" y="419" width="13" height="11"/></g>
<g id="n-plant"><rect class="c" x="1050" y="412" width="37" height="26"/><text class="t" x="1052" y="416">food of plant origin</text><rect class="pl" x="1053" y="418" width="22" height="18"/></g>
<g id="n-drinks"><rect class="c" x="1108" y="412" width="38" height="15"/><text class="t" x="1110" y="416">drinks</text><rect class="pl" x="1111" y="418" width="13" height="7"/></g>
<g id="n-other"><rect class="c" x="1205" y="412" width="37" height="16"/><text class="t" x="1207" y="416">other</text><rect class="pl" x="1208" y="418" width="20" height="8"/></g>
<g id="n-dishes"><rect class="c" x="1108" y="476" width="38" height="20"/><text class="t" x="1110" y="480">dishes and meals</text><rect class="pl" x="1111" y="482" width="22" height="12"/></g>
<g id="n-cuisines"><rect class="c" x="1243" y="457" width="38" height="26"/><text class="t" x="1245" y="461">cuisines</text><rect class="p" x="1245" y="463" width="34" height="18"/></g>
<g id="n-cuisines2"><rect class="c" x="1301" y="461" width="24" height="14"/><rect class="pl" x="1304" y="463" width="14" height="10"/></g>
<g id="n-types"><rect class="c" x="1069" y="515" width="38" height="17"/><text class="t" x="1071" y="519">types</text><rect class="pl" x="1072" y="521" width="13" height="9"/></g>
<g id="n-courses"><rect class="c" x="1146" y="515" width="37" height="22"/><text class="t" x="1148" y="519">courses</text><rect class="pl" x="1149" y="521" width="22" height="14"/></g>
<g id="n-listcuisines">
<rect class="lb" x="1204" y="500" width="27" height="103" rx="2"/><text class="t" x="1206" y="504">list of cuisines</text><rect class="pl" x="1207" y="507" width="12" height="94"/>
<rect class="lb" x="1248" y="500" width="28" height="103" rx="2"/><rect class="pl" x="1251" y="503" width="14" height="98"/>
<rect class="lb" x="1292" y="500" width="28" height="68" rx="2"/><rect class="pl" x="1295" y="503" width="14" height="63"/>
</g>
<g id="n-socialchange"><rect class="c" x="1068" y="612" width="39" height="18"/><text class="t" x="1070" y="616">social change</text><rect class="p" x="1070" y="618" width="35" height="10"/></g>
<g id="n-skills"><rect class="c" x="1173" y="632" width="38" height="56"/><text class="t" x="1175" y="636">skills</text><rect class="pl" x="1176" y="638" width="20" height="48"/></g>
<g id="n-column">
<rect class="lb" x="1010" y="658" width="39" height="24" rx="2.5"/><rect x="1012" y="661" width="10" height="1.6" fill="#222"/><rect class="p" x="1012" y="665" width="35" height="15"/>
<rect class="lb" x="1010" y="684" width="39" height="45" rx="2.5"/><rect x="1012" y="687" width="10" height="1.6" fill="#222"/><rect class="p" x="1012" y="691" width="35" height="36"/>
<rect class="lb" x="1010" y="730" width="39" height="26" rx="2.5"/><rect x="1012" y="733" width="13" height="1.6" fill="#222"/><rect class="p" x="1012" y="737" width="35" height="17"/>
<rect class="lb" x="1010" y="757" width="39" height="36" rx="2.5"/><rect x="1012" y="760" width="12" height="1.6" fill="#222"/><rect class="p" x="1012" y="764" width="35" height="27"/>
<rect class="lb" x="1010" y="794" width="39" height="28" rx="2.5"/><rect x="1012" y="797" width="6" height="1.6" fill="#222"/><rect class="p" x="1012" y="801" width="35" height="19"/>
<rect class="lb" x="1010" y="823" width="39" height="17" rx="2.5"/><rect x="1012" y="826" width="12" height="1.6" fill="#222"/><rect class="p" x="1012" y="830" width="35" height="8"/>
</g>

<g id="n-bottomleft">
<rect class="lb" x="41" y="872" width="22" height="7" rx="3.5"/><rect x="44" y="874.7" width="16" height="1.6" fill="#222"/>
<rect class="lb" x="68" y="872" width="23" height="7" rx="3.5"/><rect x="71" y="874.7" width="17" height="1.6" fill="#222"/>
<rect class="lb" x="97" y="872" width="17" height="7" rx="3.5"/><rect x="100" y="874.7" width="11" height="1.6" fill="#222"/>
<rect class="lb" x="119" y="872" width="39" height="18" rx="2"/><rect x="121" y="875" width="9" height="1.6" fill="#222"/><rect class="pl" x="122" y="879" width="12" height="9"/>
<rect class="lb" x="164" y="872" width="39" height="28" rx="2"/><text class="t" x="166" y="876">tongs</text><rect class="pl" x="167" y="879" width="22" height="19"/>
<rect class="lb" x="208" y="872" width="18" height="7" rx="3.5"/><text class="t" x="217" y="876.5" text-anchor="middle" font-size="2.4">chopsticks</text>
<rect class="lb" x="232" y="872" width="38" height="72" rx="2"/><text class="t" x="234" y="876">forks</text><rect class="pl" x="235" y="879" width="20" height="63"/>
<rect class="lb" x="276" y="872" width="38" height="34" rx="2"/><text class="t" x="278" y="876">knives</text><rect class="pl" x="279" y="879" width="20" height="25"/>
<rect class="lb" x="320" y="872" width="38" height="66" rx="2"/><text class="t" x="322" y="876">spoons</text><rect class="pl" x="323" y="879" width="22" height="57"/>
<rect class="lb" x="364" y="872" width="26" height="7" rx="3.5"/><text class="t" x="377" y="876.5" text-anchor="middle" font-size="2.4">fingers and hands</text>
</g>

<g id="n-bottomright">
<rect class="lb" x="468" y="872" width="38" height="37" rx="2"/><text class="t" x="470" y="876">cups and jugs</text><rect class="pl" x="471" y="879" width="22" height="28"/>
<rect class="lb" x="513" y="872" width="38" height="18" rx="2"/><text class="t" x="515" y="876">pans</text><rect class="pl" x="516" y="879" width="14" height="9"/>
<rect class="lb" x="557" y="872" width="38" height="22" rx="2"/><rect x="559" y="875" width="8" height="1.6" fill="#222"/><rect class="pl" x="560" y="879" width="14" height="13"/>
<rect class="lb" x="601" y="872" width="38" height="26" rx="2"/><text class="t" x="603" y="876">containers and bowls</text><rect class="pl" x="604" y="879" width="22" height="17"/>
<rect class="lb" x="646" y="872" width="38" height="34" rx="2"/><text class="t" x="648" y="876">moulds and sheets</text><rect class="pl" x="649" y="879" width="22" height="25"/>
<rect class="lb" x="690" y="872" width="38" height="68" rx="2"/><rect x="692" y="875" width="12" height="1.6" fill="#222"/><rect class="pl" x="693" y="879" width="14" height="59"/>
<rect class="lb" x="734" y="872" width="38" height="53" rx="2"/><rect x="736" y="875" width="8" height="1.6" fill="#222"/><rect class="pl" x="737" y="879" width="20" height="44"/>
<rect class="lb" x="778" y="872" width="38" height="55" rx="2"/><text class="t" x="780" y="876" textLength="34" lengthAdjust="spacingAndGlyphs">cooking and serving spoons</text><rect class="pl" x="781" y="879" width="20" height="46"/>
<rect class="lb" x="822" y="872" width="38" height="26" rx="2"/><text class="t" x="824" y="876">cutting tools</text><rect class="pl" x="825" y="879" width="22" height="17"/>
<rect class="lb" x="866" y="872" width="38" height="39" rx="2"/><text class="t" x="868" y="876">Pounding and crushing</text><rect class="pl" x="869" y="879" width="20" height="30"/>
<rect class="lb" x="910" y="872" width="38" height="22" rx="2"/><text class="t" x="912" y="876">opening</text><rect class="pl" x="913" y="879" width="20" height="13"/>
<rect class="lb" x="954" y="872" width="38" height="23" rx="2"/><text class="t" x="956" y="876">skewers and needles</text><rect class="pl" x="957" y="879" width="20" height="14"/>
<rect class="lb" x="998" y="872" width="38" height="30" rx="2"/><text class="t" x="1000" y="876">mills and graters</text><rect class="pl" x="1001" y="879" width="14" height="21"/>
<rect class="lb" x="1042" y="872" width="38" height="24" rx="2"/><text class="t" x="1044" y="876">measuring devices</text><rect class="pl" x="1045" y="879" width="22" height="15"/>
<rect class="lb" x="1087" y="872" width="38" height="20" rx="2"/><text class="t" x="1089" y="876">sieving</text><rect class="pl" x="1090" y="879" width="22" height="11"/>
<rect class="lb" x="1131" y="872" width="39" height="68" rx="2"/><text class="t" x="1133" y="876">heating devices</text><rect class="pl" x="1134" y="879" width="22" height="59"/>
<rect class="lb" x="1176" y="872" width="38" height="20" rx="2"/><text class="t" x="1178" y="876">cooling devices</text><rect class="pl" x="1179" y="879" width="20" height="11"/>
<rect class="lb" x="1220" y="872" width="38" height="16" rx="2"/><text class="t" x="1222" y="876">dish washing</text><rect class="pl" x="1223" y="879" width="14" height="7"/>
<rect class="lb" x="1265" y="872" width="38" height="29" rx="2"/><text class="t" x="1267" y="876" textLength="34" lengthAdjust="spacingAndGlyphs">electronic kitchen devices</text><rect class="pl" x="1268" y="879" width="14" height="20"/>
<rect class="lb" x="1309" y="872" width="38" height="24" rx="2"/><text class="t" x="1311" y="876">textiles</text><rect class="pl" x="1312" y="879" width="20" height="15"/>
</g>
</g>

<g id="footer">
<text x="1329" y="974" font-family="'Liberation Sans',Arial,sans-serif" font-size="5.3" fill="#8a8a8a">London Design Biennale</text>
<rect x="1329" y="976" width="55" height="1" fill="#9a9a9a"/>
</g>
</svg>
